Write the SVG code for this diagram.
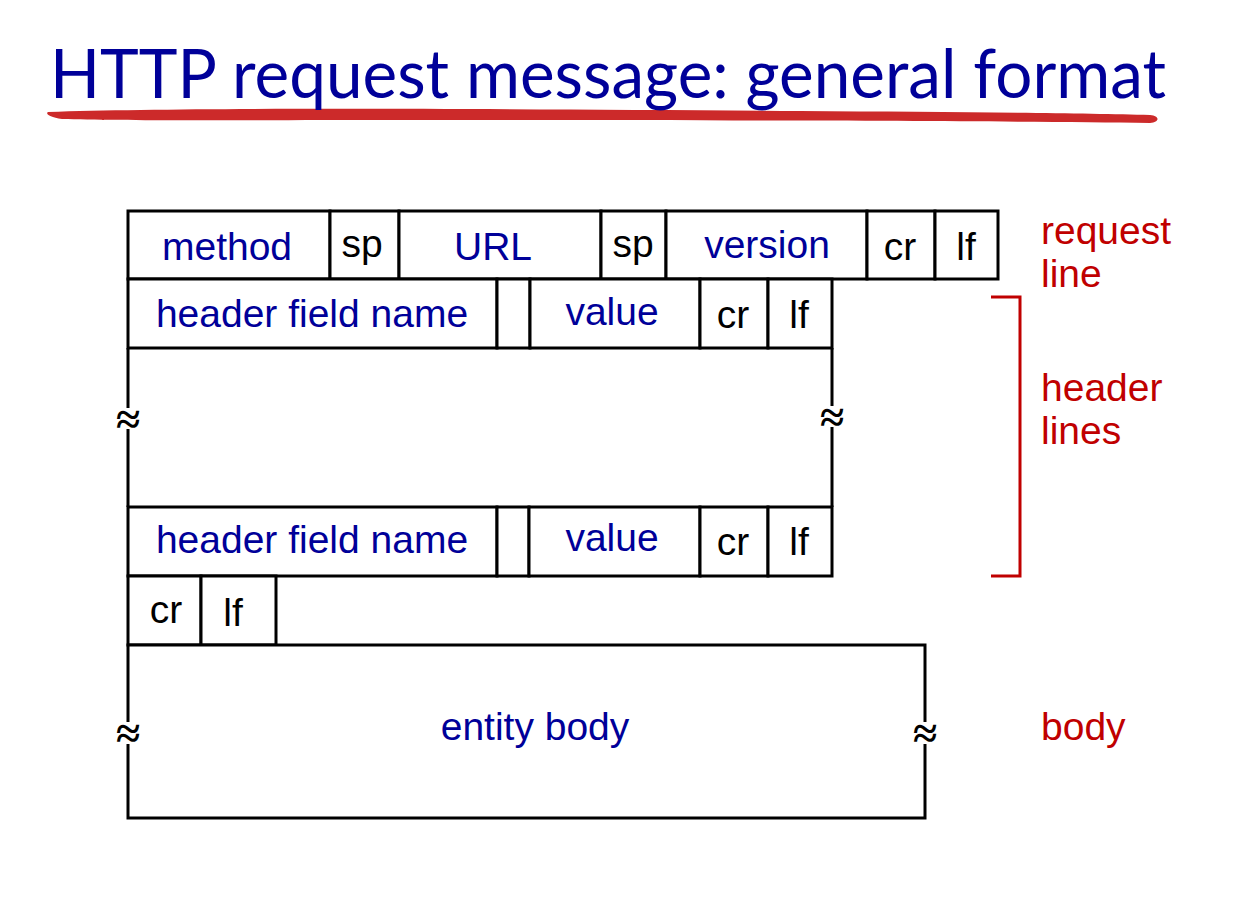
<svg xmlns="http://www.w3.org/2000/svg" width="1255" height="897" viewBox="0 0 1255 897">
  <style>
    .cell { fill: #ffffff; stroke: #000000; stroke-width: 3; }
    .edge { fill: none; stroke: #000000; stroke-width: 3; }
    .f { font-family: "Liberation Sans", Arial, sans-serif; font-size: 39px; }
    .blue { fill: #000099; }
    .black { fill: #000000; }
    .red { fill: #c00000; }
    .mid { text-anchor: middle; }
    .brk { font-family: "Liberation Serif", serif; font-size: 44px; font-weight: bold; fill: #000000; text-anchor: middle; }
    .gap { fill: #ffffff; stroke: none; }
  </style>

  <rect width="1255" height="897" fill="#ffffff"/>

  <!-- title with brush underline -->
  <g id="title">
    <path d="M48,112 C200,107 500,109 800,111 C950,112 1080,113 1150,115 C1160,116 1160,122 1150,123 C1000,121 700,120 400,120 C250,120 120,121 62,119 C50,117 45,114 48,112 Z" fill="#cc2a2a"/>
    <text x="50" y="98" font-family="Lato, 'Open Sans', sans-serif" font-size="68" fill="#000099" textLength="1116" lengthAdjust="spacingAndGlyphs">HTTP request message: general format</text>
  </g>

  <!-- request line -->
  <g id="request-line">
    <rect class="cell" x="128" y="211" width="202" height="68"/>
    <text class="f blue mid" x="227" y="260">method</text>
    <rect class="cell" x="330" y="211" width="69" height="68"/>
    <text class="f black mid" x="362" y="257">sp</text>
    <rect class="cell" x="399" y="211" width="202" height="68"/>
    <text class="f blue mid" x="493" y="260">URL</text>
    <rect class="cell" x="601" y="211" width="65" height="68"/>
    <text class="f black mid" x="633" y="257">sp</text>
    <rect class="cell" x="666" y="211" width="201" height="68"/>
    <text class="f blue mid" x="767" y="258">version</text>
    <rect class="cell" x="867" y="211" width="68" height="68"/>
    <text class="f black mid" x="900" y="260">cr</text>
    <rect class="cell" x="935" y="211" width="63" height="68"/>
    <text class="f black mid" x="966" y="260">lf</text>
  </g>

  <!-- first header line -->
  <g id="header-1">
    <rect class="cell" x="128" y="279" width="369" height="69"/>
    <text class="f blue mid" x="312" y="327">header field name</text>
    <rect class="cell" x="497" y="279" width="33" height="69"/>
    <rect class="cell" x="530" y="279" width="170" height="69"/>
    <text class="f blue mid" x="612" y="325">value</text>
    <rect class="cell" x="700" y="279" width="68" height="69"/>
    <text class="f black mid" x="733" y="328">cr</text>
    <rect class="cell" x="768" y="279" width="64" height="69"/>
    <text class="f black mid" x="799" y="328">lf</text>
  </g>

  <!-- elided header lines -->
  <g id="header-gap">
    <path class="edge" d="M128,348 V507 M832,348 V507"/>
    <rect class="gap" x="115" y="408" width="26" height="21"/>
    <text class="brk" x="128" y="434">≈</text>
    <rect class="gap" x="819" y="406" width="26" height="21"/>
    <text class="brk" x="832" y="432">≈</text>
  </g>

  <!-- last header line -->
  <g id="header-n">
    <rect class="cell" x="128" y="507" width="369" height="69"/>
    <text class="f blue mid" x="312" y="553">header field name</text>
    <rect class="cell" x="497" y="507" width="32" height="69"/>
    <rect class="cell" x="529" y="507" width="171" height="69"/>
    <text class="f blue mid" x="612" y="551">value</text>
    <rect class="cell" x="700" y="507" width="68" height="69"/>
    <text class="f black mid" x="733" y="555">cr</text>
    <rect class="cell" x="768" y="507" width="64" height="69"/>
    <text class="f black mid" x="799" y="555">lf</text>
  </g>

  <!-- blank line -->
  <g id="blank-line">
    <rect class="cell" x="128" y="576" width="73" height="69"/>
    <text class="f black mid" x="166" y="623">cr</text>
    <rect class="cell" x="201" y="576" width="75" height="69"/>
    <text class="f black mid" x="233" y="626">lf</text>
  </g>

  <!-- entity body -->
  <g id="entity-body">
    <rect class="cell" x="128" y="645" width="797" height="173"/>
    <text class="f blue mid" x="535" y="740">entity body</text>
    <rect class="gap" x="115" y="722" width="26" height="22"/>
    <text class="brk" x="128" y="748">≈</text>
    <rect class="gap" x="912" y="722" width="26" height="22"/>
    <text class="brk" x="925" y="748">≈</text>
  </g>

  <!-- side annotations -->
  <g id="labels">
    <text class="f red" x="1041" y="244">request</text>
    <text class="f red" x="1041" y="287">line</text>
    <path d="M991,297 H1020 V576 H991" fill="none" stroke="#c00000" stroke-width="3"/>
    <text class="f red" x="1041" y="401">header</text>
    <text class="f red" x="1041" y="444">lines</text>
    <text class="f red" x="1041" y="740">body</text>
  </g>
</svg>
